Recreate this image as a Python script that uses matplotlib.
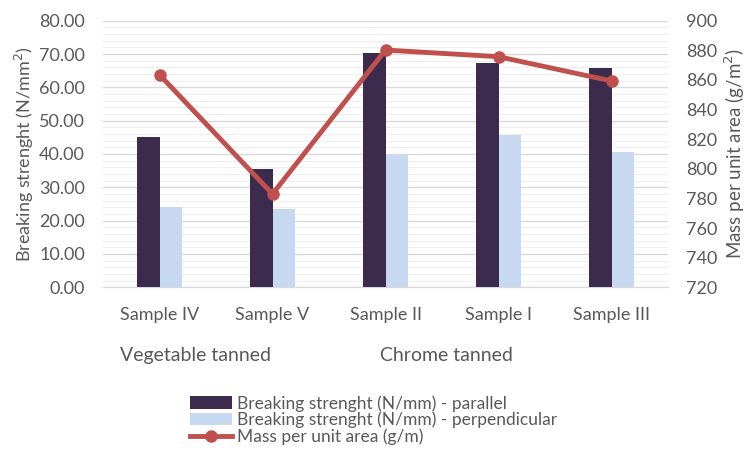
import matplotlib.pyplot as plt
import numpy as np

plt.rcParams['font.family'] = ['Lato', 'DejaVu Sans']

samples = ['Sample IV', 'Sample V', 'Sample II', 'Sample I', 'Sample III']
groups = ['Vegetable tanned', 'Chrome tanned']
parallel = [45.0, 35.4, 70.2, 67.2, 65.7]
perpendicular = [24.0, 23.4, 39.7, 45.7, 40.7]
mass = [863.5, 783.0, 880.2, 875.7, 859.3]

dark = '#3D2B4E'
light = '#C6D9F1'
red = '#C0504D'
grey = '#595959'

fig = plt.figure(figsize=(7.51, 4.51), dpi=100)
ax = fig.add_axes([103 / 751, 1 - 287.3 / 451, 565 / 751, 266.6 / 451])
ax2 = ax.twinx()

x = np.arange(len(samples))
w = 0.2
b1 = ax.bar(x - w / 2, parallel, w, color=dark, label='Breaking strenght (N/mm) - parallel', zorder=3)
b2 = ax.bar(x + w / 2, perpendicular, w, color=light, label='Breaking strenght (N/mm) - perpendicular', zorder=3)
l1, = ax2.plot(x, mass, color=red, lw=3.5, marker='o', ms=8, label='Mass per unit area (g/m)', zorder=4)

ax.set_xlim(-0.5, len(samples) - 0.5)
ax.set_ylim(0, 80)
ax2.set_ylim(720, 900)
ax.set_yticks(np.arange(0, 81, 10))
ax.set_yticks(np.arange(0, 81, 2), minor=True)
ax.set_yticklabels(['%.2f' % v for v in np.arange(0, 81, 10)])
ax2.set_yticks(np.arange(720, 901, 20))

ax.grid(axis='y', which='major', color='#D9D9D9', lw=1.0, zorder=0)
ax.grid(axis='y', which='minor', color='#EFEFEF', lw=0.8, zorder=0)
ax.set_axisbelow(True)

for a in (ax, ax2):
    for s in a.spines.values():
        s.set_visible(False)
    a.tick_params(length=0, colors=grey, labelsize=13)
ax.tick_params(axis='y', which='minor', length=0)
ax.spines['bottom'].set_visible(True)
ax.spines['bottom'].set_color('#D9D9D9')

ax.set_xticks(x)
ax.set_xticklabels(samples)
ax.tick_params(axis='x', pad=14)
ax.tick_params(axis='y', pad=13)
ax2.tick_params(axis='y', pad=13)

ax.set_ylabel('Breaking strenght (N/mm$^2$)', color=grey, fontsize=13, labelpad=2)
ax2.set_ylabel('Mass per unit area (g/m$^2$)', color=grey, fontsize=13.5, labelpad=4)

# group captions under the sample names
ax.text(-0.35, -0.255, groups[0], transform=ax.get_xaxis_transform(),
        ha='left', va='center', color=grey, fontsize=14)
ax.text(1.95, -0.255, groups[1], transform=ax.get_xaxis_transform(),
        ha='left', va='center', color=grey, fontsize=14)

fig.legend(handles=[b1, b2, l1], loc='upper left', bbox_to_anchor=(190 / 751, 1 - 395 / 451),
           frameon=False, fontsize=12.5, labelcolor=grey, handlelength=2.4,
           handletextpad=0.3, labelspacing=0.0, borderpad=0, borderaxespad=0)

fig.savefig('out.png', dpi=100)
